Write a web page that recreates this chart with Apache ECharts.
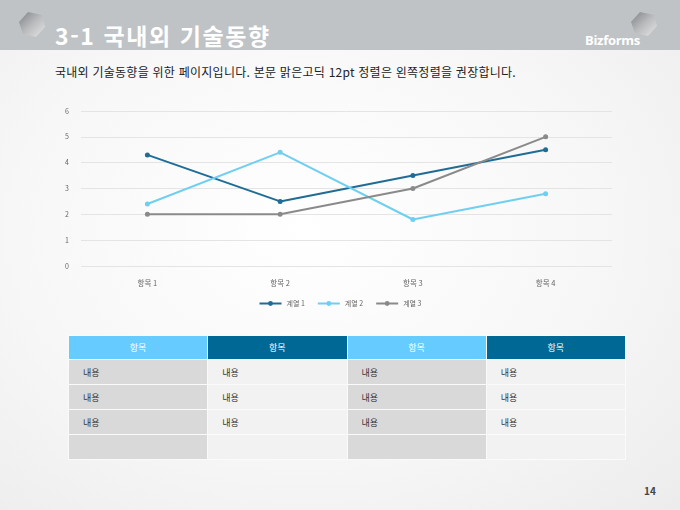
<!DOCTYPE html>
<html lang="ko">
<head>
    <meta charset="UTF-8">
    <title>3-1 국내외 기술동향</title>
    <script src="https://cdn.jsdelivr.net/npm/echarts@6/dist/echarts.min.js"></script>
    <style>
        html, body { margin: 0; padding: 0; }
        body {
            width: 680px; height: 510px; position: relative; overflow: hidden;
            font-family: "Noto Sans CJK KR", "Noto Sans", sans-serif;
            background: radial-gradient(ellipse at 45% 45%, #ffffff 0%, #f7f7f7 55%, #ececec 100%);
        }
        .bar { position: absolute; left: 0; top: 0; width: 680px; height: 50px; background: #bfc3c6; }
        .title { position: absolute; left: 55px; top: 18px; font-size: 23px; font-weight: bold; color: #fff; letter-spacing: 1.6px; }
        .brand { position: absolute; left: 585px; top: 31px; font-size: 13px; font-weight: bold; color: #fff; font-family: "Open Sans", sans-serif; letter-spacing: -0.3px; }
        .gem { position: absolute; }
        .sub { position: absolute; left: 55px; top: 63px; font-size: 12px; color: #222; letter-spacing: 0.25px; }
        #main { position: absolute; left: 0; top: 90px; width: 680px; height: 230px; }
        table { position: absolute; left: 68px; top: 335px; border-collapse: collapse; table-layout: fixed; width: 558px; }
        th, td { height: 24px; padding: 0; font-size: 9px; border: 1px solid #fafafa; }
        th { color: #fff; font-weight: normal; text-align: center; height: 23px; }
        td { color: #333; text-align: left; padding-left: 14px; }
        .hl { background: #66ccff; }
        .hd { background: #006895; }
        .cd { background: #d9d9d9; }
        .cl { background: #f2f2f2; }
        .page { position: absolute; left: 644px; top: 483px; font-size: 10px; font-weight: bold; color: #444; }
    </style>
</head>
<body>
<div class="bar"></div>
<svg class="gem" style="left:18px;top:11px" width="28" height="27" viewBox="0 0 28 27">
    <defs><linearGradient id="g1" x1="0" y1="0" x2="1" y2="1">
        <stop offset="0" stop-color="#7f8285"/><stop offset="0.5" stop-color="#b9bbbd"/><stop offset="1" stop-color="#e6e6e6"/>
    </linearGradient></defs>
    <polygon points="10,1 24,4 27,16 18,26 5,23 1,11" fill="url(#g1)"/>
</svg>
<div class="title">3-1 국내외 기술동향</div>
<svg class="gem" style="left:630px;top:11px" width="28" height="26" viewBox="0 0 28 26">
    <defs><linearGradient id="g2" x1="0" y1="0" x2="1" y2="1">
        <stop offset="0" stop-color="#7f8285"/><stop offset="0.5" stop-color="#b9bbbd"/><stop offset="1" stop-color="#e6e6e6"/>
    </linearGradient></defs>
    <polygon points="10,1 24,4 27,15 18,25 5,22 1,11" fill="url(#g2)"/>
</svg>
<div class="brand">Bizforms</div>
<div class="sub">국내외 기술동향을 위한 페이지입니다. 본문 맑은고딕 12pt 정렬은 왼쪽정렬을 권장합니다.</div>

<div id="main"></div>

<table>
    <tr><th class="hl">항목</th><th class="hd">항목</th><th class="hl">항목</th><th class="hd">항목</th></tr>
    <tr><td class="cd">내용</td><td class="cl">내용</td><td class="cd">내용</td><td class="cl">내용</td></tr>
    <tr><td class="cd">내용</td><td class="cl">내용</td><td class="cd">내용</td><td class="cl">내용</td></tr>
    <tr><td class="cd">내용</td><td class="cl">내용</td><td class="cd">내용</td><td class="cl">내용</td></tr>
    <tr><td class="cd"></td><td class="cl"></td><td class="cd"></td><td class="cl"></td></tr>
</table>
<div class="page">14</div>

<script type="text/javascript">
    // 차트 데이터
    var categories = ['항목 1', '항목 2', '항목 3', '항목 4'];
    var seriesNames = ['계열 1', '계열 2', '계열 3'];
    var series1 = [4.3, 2.5, 3.5, 4.5];
    var series2 = [2.4, 4.4, 1.8, 2.8];
    var series3 = [2, 2, 3, 5];
    var colors = ['#1f6d96', '#6fcff0', '#8a8a8a'];

    var chart = echarts.init(document.getElementById('main'));

    function line(name, data, color) {
        return {
            name: name,
            type: 'line',
            data: data,
            symbol: 'circle',
            symbolSize: 5,
            lineStyle: { width: 2, color: color },
            itemStyle: { color: color },
            animation: false
        };
    }

    var option = {
        textStyle: { fontFamily: 'Noto Sans CJK KR' },
        legend: {
            data: seriesNames,
            bottom: 8,
            left: 'center',
            itemWidth: 22,
            itemHeight: 6,
            itemGap: 12,
            textStyle: { fontSize: 7, color: '#666' }
        },
        grid: { left: 81, right: 68, top: 21, bottom: 54 },
        xAxis: {
            type: 'category',
            data: categories,
            axisLine: { show: false },
            axisTick: { show: false },
            axisLabel: { fontSize: 7.5, color: '#666', margin: 13 }
        },
        yAxis: {
            type: 'value',
            min: 0,
            max: 6,
            interval: 1,
            axisLabel: { fontSize: 7, color: '#666', margin: 12 },
            splitLine: { lineStyle: { color: '#e4e4e4' } }
        },
        series: [
            line(seriesNames[0], series1, colors[0]),
            line(seriesNames[1], series2, colors[1]),
            line(seriesNames[2], series3, colors[2])
        ]
    };

    chart.setOption(option);
</script>
</body>
</html>
